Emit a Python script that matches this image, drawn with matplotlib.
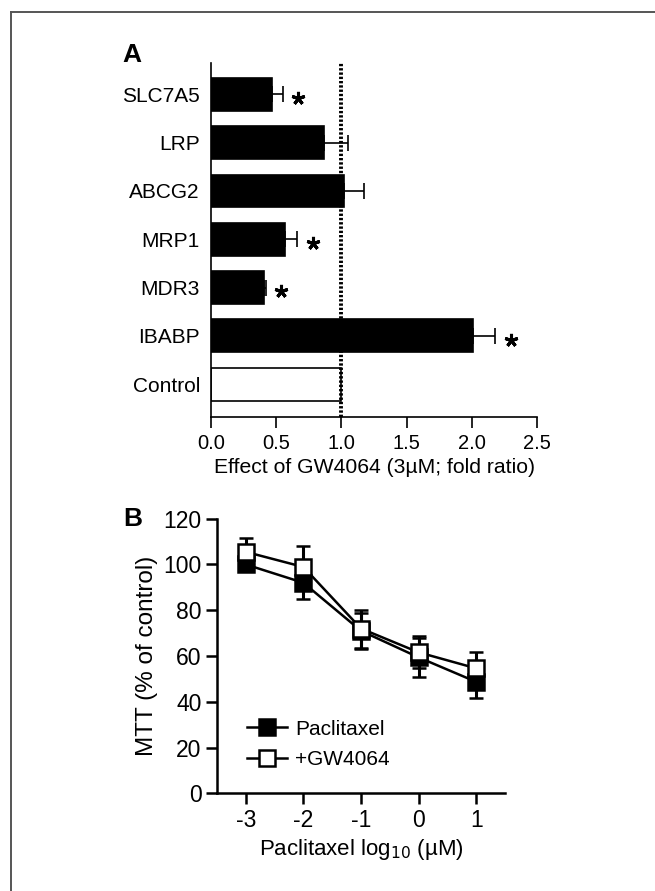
import matplotlib
matplotlib.use("Agg")
import matplotlib.pyplot as plt
from matplotlib.lines import Line2D
import numpy as np

plt.rcParams['font.family'] = ['Liberation Sans', 'DejaVu Sans']

# ---- Panel A data ----
genes = ["SLC7A5", "LRP", "ABCG2", "MRP1", "MDR3", "IBABP", "Control"]
fold = [0.47, 0.87, 1.02, 0.57, 0.41, 2.01, 1.0]
fold_err = [0.08, 0.18, 0.155, 0.09, 0.01, 0.17, 0.0]
significant = [True, False, False, True, True, True, False]
a_ticks = [0.0, 0.5, 1.0, 1.5, 2.0, 2.5]

# ---- Panel B data ----
log_conc = [-3, -2, -1, 0, 1]
pac = [100, 92, 71, 59.4, 48.7]
pac_err = [2, 7, 8, 8.5, 7]
gw = [105.5, 98.9, 72, 61.6, 54.6]
gw_err = [6, 9, 8.3, 7, 7]
b_yticks = [0, 20, 40, 60, 80, 100, 120]

W, H = 655, 891
fig = plt.figure(figsize=(W / 100, H / 100), dpi=100)

# figure frame (left and top)
fig.add_artist(Line2D([11 / W, 11 / W], [0, 1 - 12 / H], color='#555555', lw=1.4))
fig.add_artist(Line2D([11 / W, 1], [1 - 12 / H, 1 - 12 / H], color='#555555', lw=1.4))

# ---------------- Panel A ----------------
axA = fig.add_axes([211 / W, 1 - 417 / H, (537 - 211) / W, (417 - 63) / H])
n = len(genes)
ypos = np.arange(n)[::-1]
colors = ['black' if g != 'Control' else 'white' for g in genes]
axA.barh(ypos, fold, height=0.68, color=colors, edgecolor='black', linewidth=1.2, zorder=2)
for y, v, e, g in zip(ypos, fold, fold_err, genes):
    if e > 0:
        axA.errorbar(v, y, xerr=[[0], [e]], fmt='none', ecolor='black',
                     elinewidth=1.2, capsize=5.5, capthick=1.2, zorder=3)
for y, v, e, s in zip(ypos, fold, fold_err, significant):
    if s:
        axA.plot(v + e + 0.12, y - 0.08, marker=(5, 2, 0), color='black',
                 markersize=9.5, mew=2.2, zorder=4)
axA.axvline(1.0, color='black', lw=2.8, ls=(0, (0.6, 0.5)), zorder=5)
axA.set_xlim(0, 2.5)
axA.set_ylim(-0.68, 6.65)
axA.set_yticks(ypos)
axA.set_yticklabels(genes, fontsize=15)
axA.tick_params(axis='y', length=0, pad=8)
axA.set_xticks(a_ticks)
axA.set_xticklabels([f"{t:.1f}" for t in a_ticks], fontsize=14.5)
axA.tick_params(axis='x', direction='out', length=8, width=1.2, pad=4)
for sp in ['top', 'right']:
    axA.spines[sp].set_visible(False)
for sp in ['left', 'bottom']:
    axA.spines[sp].set_linewidth(1.2)
axA.set_xlabel("Effect of GW4064 (3\u00b5M; fold ratio)", fontsize=15.2, labelpad=4)
fig.text(122 / W, 1 - 55 / H, "A", fontsize=19, fontweight='bold', va='center', ha='left')

# ---------------- Panel B ----------------
axB = fig.add_axes([217 / W, 1 - 793.3 / H, (505 - 217) / W, (793.3 - 518.7) / H])
axB.errorbar(log_conc, pac, yerr=pac_err, color='black', lw=1.8, marker='s',
             markersize=11, mfc='black', mec='black', mew=1.8,
             ecolor='black', elinewidth=2.2, capsize=5, capthick=2.2,
             label='Paclitaxel', zorder=3)
axB.errorbar(log_conc, gw, yerr=gw_err, color='black', lw=1.8, marker='s',
             markersize=11, mfc='white', mec='black', mew=1.8,
             ecolor='black', elinewidth=2.2, capsize=5, capthick=2.2,
             label='+GW4064', zorder=4)
axB.set_xlim(-3.5, 1.5)
axB.set_ylim(0, 120)
axB.set_xticks(log_conc)
axB.set_xticklabels([str(x) for x in log_conc], fontsize=16.5)
axB.set_yticks(b_yticks)
axB.set_yticklabels([str(t) for t in b_yticks], fontsize=16.5)
axB.tick_params(direction='out', length=8, width=1.8, pad=3)
for sp in ['top', 'right']:
    axB.spines[sp].set_visible(False)
for sp in ['left', 'bottom']:
    axB.spines[sp].set_linewidth(1.8)
axB.set_ylabel("MTT (% of control)", fontsize=17.5, labelpad=4)
axB.set_xlabel("Paclitaxel log$_{10}$ (\u00b5M)", fontsize=16, labelpad=4)
handles, labels = axB.get_legend_handles_labels()
handles = [h[0] for h in handles]
axB.legend(handles, labels, loc='lower left', bbox_to_anchor=(0.055, 0.035),
           frameon=False, fontsize=15, handlelength=1.9, handletextpad=0.4,
           labelspacing=0.55, borderpad=0.2)
fig.text(133 / W, 1 - 519 / H, "B", fontsize=19, fontweight='bold', va='center', ha='center')

fig.savefig("out.png", dpi=100)
